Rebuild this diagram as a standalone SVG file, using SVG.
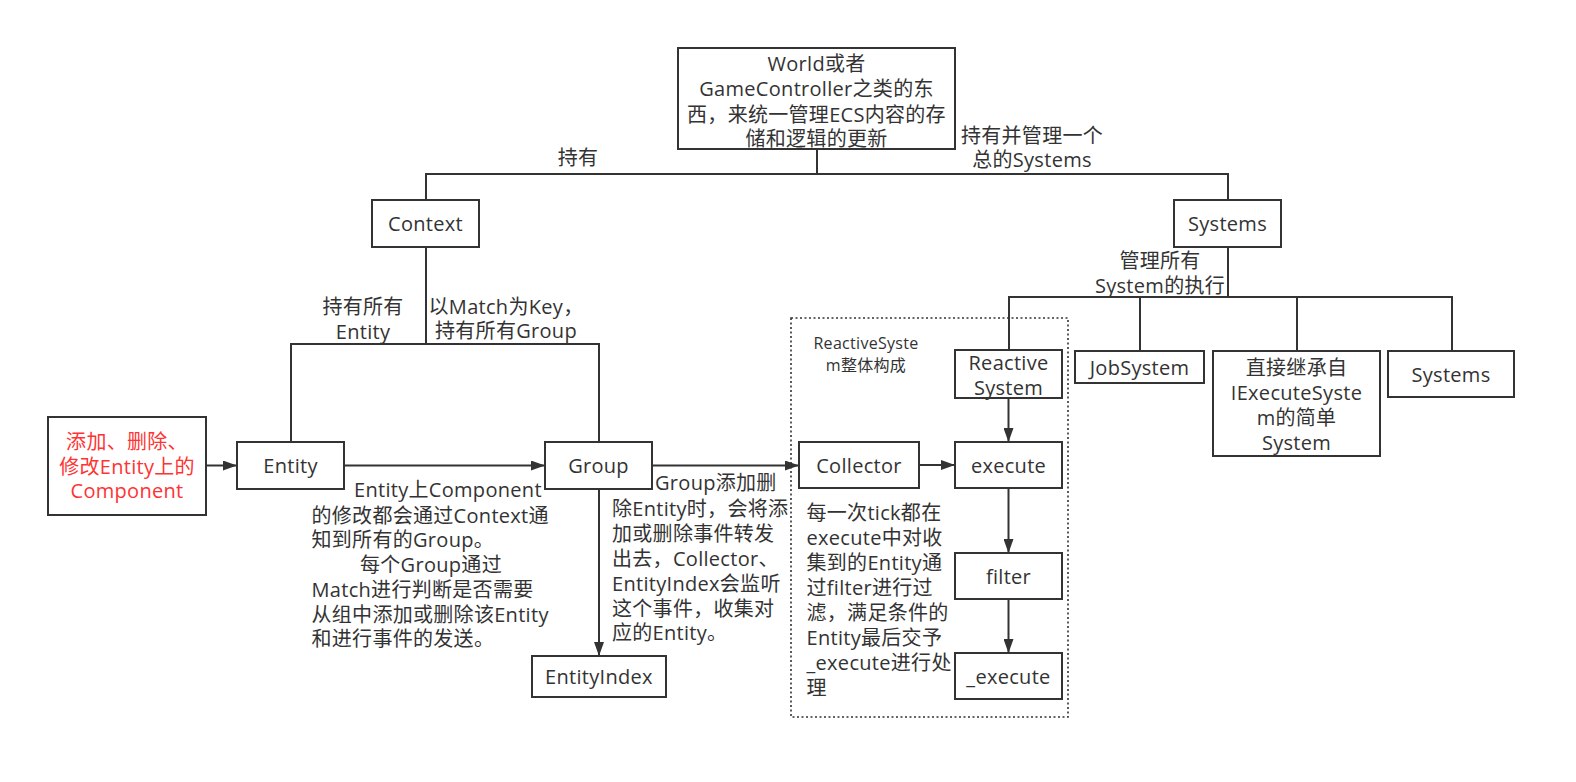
<svg xmlns="http://www.w3.org/2000/svg" width="1576" height="782" viewBox="0 0 1576 782">
<style>
.box{fill:#fff;stroke:#333;stroke-width:2}
.ln{fill:none;stroke:#333;stroke-width:2}
.dot{fill:none;stroke:#333;stroke-width:1.6;stroke-dasharray:2 2.5}
text{font-family:"Open Sans","Noto Sans CJK SC",sans-serif;font-size:20px;fill:#333;dominant-baseline:central;letter-spacing:0.3px}
.c{text-anchor:middle}
.red{fill:#FF3333}
.sm{font-size:16px}
</style>
<defs>
<marker id="arr" markerUnits="userSpaceOnUse" markerWidth="14" markerHeight="10" refX="14" refY="5" orient="auto">
<path d="M0,0 L14,5 L0,10 z" fill="#333"/>
</marker>
</defs>
<rect width="1576" height="782" fill="#fff"/>
<g id="connectors">
<path class="ln" d="M817,149 V174 M426,200 V174 H1228 V200"/>
<path class="ln" d="M426,247 V344 M291,442 V344 H599 V442"/>
<path class="ln" d="M1228,247 V297 M1009,350 V297 H1452 V351 M1140,297 V351 M1297,297 V351"/>
<path class="ln" marker-end="url(#arr)" d="M206,465.5 H237"/>
<path class="ln" marker-end="url(#arr)" d="M344,465.5 H545"/>
<path class="ln" marker-end="url(#arr)" d="M652,465.5 H799"/>
<path class="ln" marker-end="url(#arr)" d="M599,489 V656"/>
<path class="ln" marker-end="url(#arr)" d="M919,465 H955"/>
<path class="ln" marker-end="url(#arr)" d="M1008.5,398 V442"/>
<path class="ln" marker-end="url(#arr)" d="M1008.5,488 V553"/>
<path class="ln" marker-end="url(#arr)" d="M1008.5,599 V653"/>
</g>
<g id="reactive-group">
<rect class="dot" x="791" y="318" width="277" height="399"/>
<text class="c sm" x="866" y="343">ReactiveSyste</text>
<text class="c sm" x="866" y="365">m整体构成</text>
</g>
<g id="n-world">
<rect class="box" x="678" y="48" width="277" height="101"/>
<text class="c" x="816.5" y="63">World或者</text>
<text class="c" x="816.5" y="88.5">GameController之类的东</text>
<text class="c" x="816.5" y="114">西，来统一管理ECS内容的存</text>
<text class="c" x="816.5" y="138.5">储和逻辑的更新</text>
</g>
<g id="n-context">
<rect class="box" x="372" y="200" width="107" height="47"/>
<text class="c" x="425.5" y="223.5">Context</text>
</g>
<g id="n-systems">
<rect class="box" x="1174" y="200" width="107" height="47"/>
<text class="c" x="1227.5" y="223.5">Systems</text>
</g>
<g id="n-red">
<rect class="box" x="48" y="417" width="158" height="98"/>
<text class="c red" x="127" y="441.5">添加、删除、</text>
<text class="c red" x="127" y="466">修改Entity上的</text>
<text class="c red" x="127" y="490.5">Component</text>
</g>
<g id="n-entity">
<rect class="box" x="237" y="442" width="107" height="47"/>
<text class="c" x="290.5" y="465.5">Entity</text>
</g>
<g id="n-group">
<rect class="box" x="545" y="442" width="107" height="47"/>
<text class="c" x="598.5" y="465.5">Group</text>
</g>
<g id="n-entityindex">
<rect class="box" x="532" y="656" width="134" height="41"/>
<text class="c" x="599" y="676.5">EntityIndex</text>
</g>
<g id="n-collector">
<rect class="box" x="799" y="442" width="120" height="46"/>
<text class="c" x="859" y="465">Collector</text>
</g>
<g id="n-execute">
<rect class="box" x="955" y="442" width="107" height="46"/>
<text class="c" x="1008.5" y="465">execute</text>
</g>
<g id="n-filter">
<rect class="box" x="955" y="553" width="107" height="46"/>
<text class="c" x="1008.5" y="576">filter</text>
</g>
<g id="n-_execute">
<rect class="box" x="955" y="653" width="107" height="46"/>
<text class="c" x="1008.5" y="676">_execute</text>
</g>
<g id="n-reactivesystem">
<rect class="box" x="955" y="350" width="107" height="48"/>
<text class="c" x="1008.5" y="362">Reactive</text>
<text class="c" x="1008.5" y="387">System</text>
</g>
<g id="n-jobsystem">
<rect class="box" x="1075" y="351" width="129" height="32"/>
<text class="c" x="1139.5" y="367.5">JobSystem</text>
</g>
<g id="n-simple">
<rect class="box" x="1213" y="351" width="167" height="105"/>
<text class="c" x="1296.5" y="367">直接继承自</text>
<text class="c" x="1296.5" y="392.5">IExecuteSyste</text>
<text class="c" x="1296.5" y="417.5">m的简单</text>
<text class="c" x="1296.5" y="442">System</text>
</g>
<g id="n-systems2">
<rect class="box" x="1388" y="351" width="126" height="46"/>
<text class="c" x="1451" y="374">Systems</text>
</g>
<g id="labels">
<text class="c" x="578" y="157">持有</text>
<text class="c" x="1032" y="135">持有并管理一个</text>
<text class="c" x="1032" y="159">总的Systems</text>
<text class="c" x="363" y="306.5">持有所有</text>
<text class="c" x="363" y="331.5">Entity</text>
<text class="c" x="506" y="306">以Match为Key，</text>
<text class="c" x="506" y="330">持有所有Group</text>
<text class="c" x="1160" y="260">管理所有</text>
<text class="c" x="1160" y="285">System的执行</text>
<text x="354" y="489.5">Entity上Component</text>
<text x="311.5" y="515">的修改都会通过Context通</text>
<text x="311.5" y="539.5">知到所有的Group。</text>
<text x="360" y="564">每个Group通过</text>
<text x="311.5" y="589">Match进行判断是否需要</text>
<text x="311.5" y="614">从组中添加或删除该Entity</text>
<text x="311.5" y="638.5">和进行事件的发送。</text>
<text x="655" y="482">Group添加删</text>
<text x="612" y="508">除Entity时，会将添</text>
<text x="612" y="533">加或删除事件转发</text>
<text x="612" y="558">出去，Collector、</text>
<text x="612" y="583">EntityIndex会监听</text>
<text x="612" y="608">这个事件，收集对</text>
<text x="612" y="632">应的Entity。</text>
<text x="806.5" y="512">每一次tick都在</text>
<text x="806.5" y="537">execute中对收</text>
<text x="806.5" y="562">集到的Entity通</text>
<text x="806.5" y="587">过filter进行过</text>
<text x="806.5" y="612">滤，满足条件的</text>
<text x="806.5" y="637">Entity最后交予</text>
<text x="806.5" y="662.5">_execute进行处</text>
<text x="806.5" y="687">理</text>
</g>
</svg>
